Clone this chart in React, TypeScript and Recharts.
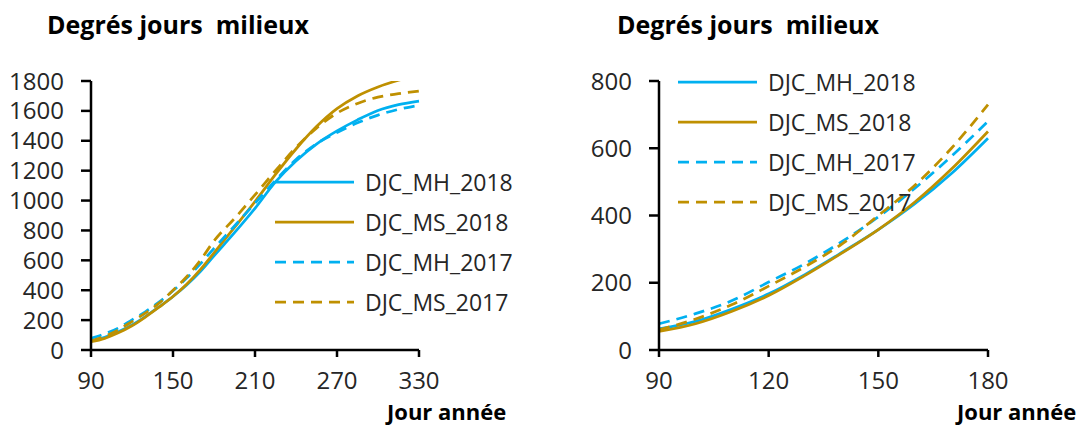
import React from 'react'
import { LineChart, Line, XAxis, YAxis, Legend } from 'recharts'

const days = [90, 100, 110, 120, 130, 140, 150, 160, 170, 180, 195, 210, 225, 240, 255, 270, 285, 300, 315, 330]
const djcMH2018 = [63, 85, 122, 167, 225, 290, 358, 435, 525, 630, 785, 948, 1125, 1265, 1378, 1466, 1540, 1603, 1642, 1666]
const djcMS2018 = [55, 78, 115, 162, 222, 288, 358, 440, 538, 650, 820, 993, 1175, 1345, 1495, 1615, 1700, 1760, 1805, 1840]
const djcMH2017 = [78, 108, 147, 202, 257, 322, 396, 481, 576, 680, 830, 982, 1135, 1275, 1380, 1455, 1520, 1572, 1610, 1638]
const djcMS2017 = [60, 92, 135, 190, 248, 315, 400, 490, 600, 730, 880, 1038, 1200, 1355, 1485, 1585, 1650, 1692, 1715, 1733]

const leftXTicks = [90, 150, 210, 270, 330]
const leftYTicks = [0, 200, 400, 600, 800, 1000, 1200, 1400, 1600, 1800]
const rightXTicks = [90, 120, 150, 180]
const rightYTicks = [0, 200, 400, 600, 800]

const BLUE = '#00B0F0'
const GOLD = '#BF9000'
const TEXT = '#262626'
const FONT = "'Open Sans', sans-serif"

const series = [
  { key: 'mh2018', name: 'DJC_MH_2018', color: BLUE, dash: undefined as string | undefined },
  { key: 'ms2018', name: 'DJC_MS_2018', color: GOLD, dash: undefined as string | undefined },
  { key: 'mh2017', name: 'DJC_MH_2017', color: BLUE, dash: '11 7' },
  { key: 'ms2017', name: 'DJC_MS_2017', color: GOLD, dash: '11 7' },
]

const rows = days.map((d, i) => ({
  day: d,
  mh2018: djcMH2018[i],
  ms2018: djcMS2018[i],
  mh2017: djcMH2017[i],
  ms2017: djcMS2017[i],
}))

const SeriesLegend = () => (
  <div>
    {series.map(s => (
      <div key={s.key} style={{ display: 'flex', alignItems: 'center', height: 40 }}>
        <svg width={80} height={6} style={{ display: 'block' }}>
          <line x1={0} y1={3} x2={79} y2={3} stroke={s.color} strokeWidth={2.75} strokeDasharray={s.dash} />
        </svg>
        <span style={{ marginLeft: 10, fontSize: 23, color: TEXT, fontFamily: FONT, whiteSpace: 'nowrap' }}>{s.name}</span>
      </div>
    ))}
  </div>
)

interface DegreeChartProps {
  left: number
  width: number
  axisWidth: number
  marginRight: number
  xMax: number
  yMax: number
  xTicks: number[]
  yTicks: number[]
  legendLeft: number
  legendTop: number
}

const DegreeChart = ({ left, width, axisWidth, marginRight, xMax, yMax, xTicks, yTicks, legendLeft, legendTop }: DegreeChartProps) => {
  const data = rows.filter(r => r.day <= xMax)
  return (
    <div style={{ position: 'absolute', left, top: 0, width, height: 427 }}>
      <LineChart width={width} height={427} data={data} margin={{ top: 81, right: marginRight, bottom: 47, left: 0 }}>
        <XAxis
          dataKey="day"
          type="number"
          domain={[90, xMax]}
          ticks={xTicks}
          interval={0}
          height={30}
          tickSize={7}
          tickMargin={14.5}
          tick={{ fontSize: 24, fill: TEXT }}
          axisLine={{ stroke: '#000', strokeWidth: 2.5 }}
          tickLine={{ stroke: '#000', strokeWidth: 2.5 }}
        />
        <YAxis
          type="number"
          domain={[0, yMax]}
          ticks={yTicks}
          interval={0}
          allowDataOverflow
          width={axisWidth}
          tickSize={10}
          tickMargin={17}
          tick={{ fontSize: 24, fill: TEXT }}
          axisLine={{ stroke: '#000', strokeWidth: 2.5 }}
          tickLine={{ stroke: '#000', strokeWidth: 2.5 }}
        />
        {series.map(s => (
          <Line
            key={s.key}
            type="monotone"
            dataKey={s.key}
            name={s.name}
            stroke={s.color}
            strokeWidth={2.75}
            strokeDasharray={s.dash}
            dot={false}
            activeDot={false}
            isAnimationActive={false}
          />
        ))}
        <Legend
          layout="vertical"
          align="center"
          verticalAlign="middle"
          content={() => <SeriesLegend />}
          wrapperStyle={{ left: legendLeft, top: legendTop, width: 'auto' }}
        />
      </LineChart>
    </div>
  )
}

const titleStyle: React.CSSProperties = {
  position: 'absolute',
  top: 7,
  fontSize: 25,
  fontWeight: 700,
  color: '#000',
  whiteSpace: 'pre',
}

const xLabelStyle: React.CSSProperties = {
  position: 'absolute',
  top: 400,
  fontSize: 22,
  fontWeight: 700,
  lineHeight: 1,
  color: '#000',
  whiteSpace: 'pre',
}

export default function App() {
  return (
    <div style={{ position: 'fixed', left: 0, top: 0, width: 1089, height: 427, background: '#fff', fontFamily: FONT, overflow: 'hidden' }}>
      <DegreeChart
        left={0}
        width={540}
        axisWidth={91}
        marginRight={121}
        xMax={330}
        yMax={1800}
        xTicks={leftXTicks}
        yTicks={leftYTicks}
        legendLeft={275}
        legendTop={162}
      />
      <DegreeChart
        left={560}
        width={529}
        axisWidth={99}
        marginRight={101}
        xMax={180}
        yMax={800}
        xTicks={rightXTicks}
        yTicks={rightYTicks}
        legendLeft={118}
        legendTop={62}
      />
      <div style={{ ...titleStyle, left: 47 }}>Degrés jours  milieux</div>
      <div style={{ ...titleStyle, left: 617 }}>Degrés jours  milieux</div>
      <div style={{ ...xLabelStyle, left: 387 }}>Jour année</div>
      <div style={{ ...xLabelStyle, left: 957 }}>Jour année</div>
    </div>
  )
}
